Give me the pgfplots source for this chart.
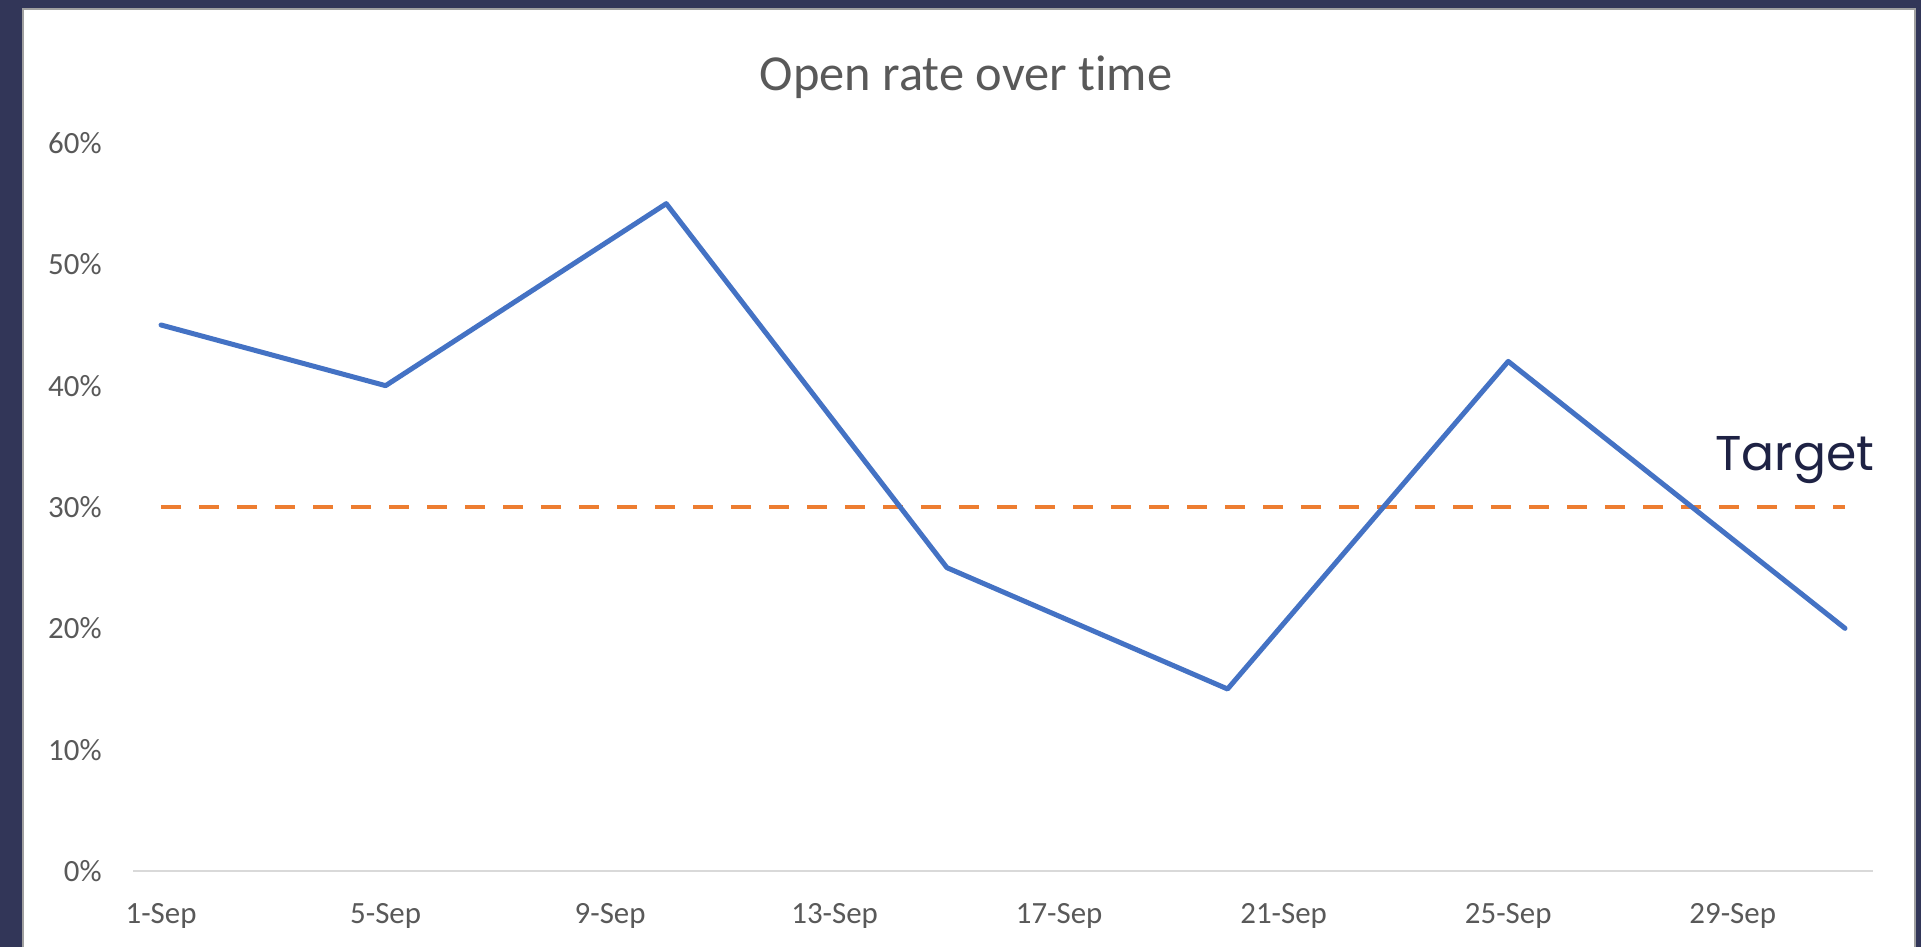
\documentclass[border=0pt]{standalone}
\usepackage{pgfplots}
\pgfplotsset{compat=1.18}
\usepackage{fontspec}
\setmainfont[Ligatures={CommonOff}]{Carlito}
\newfontfamily\poppins{Poppins}
\definecolor{navy}{RGB}{50,54,88}
\definecolor{framegray}{RGB}{160,160,160}
\definecolor{axgray}{RGB}{217,217,217}
\definecolor{txtgray}{RGB}{89,89,89}
\definecolor{xlblue}{RGB}{68,114,196}
\definecolor{xlorange}{RGB}{237,125,49}
\definecolor{tgtnavy}{RGB}{30,34,68}
\pgfplotstableread{
day rate
1 0.45
5 0.40
10 0.55
15 0.25
20 0.15
25 0.42
31 0.20
}\opendata
\pgfplotstableread{
day rate
1 0.30
31 0.30
}\targetdata
\begin{document}
\begin{tikzpicture}[x=0.5bp,y=0.5bp]
\useasboundingbox (0,0) rectangle (1921,947);
\fill[navy] (0,0) rectangle (1921,947);
\fill[white] (22,0) rectangle (1915,938);
\draw[framegray, line width=1bp] (22.5,0) -- (22.5,937.5) -- (1914.5,937.5) -- (1914.5,0);
\node[anchor=base, font=\fontsize{25.3}{30}\selectfont, text=txtgray, inner sep=0pt] at (966,856.5) {Open rate over time};
\begin{axis}[
  at={(66.5bp,38bp)}, anchor=south west,
  scale only axis, width=870bp, height=364bp,
  xmin=0.5, xmax=31.5, ymin=0, ymax=0.6,
  axis x line*=bottom, axis y line*=left,
  x axis line style={draw=axgray, line width=1.3bp, -},
  y axis line style={draw=none},
  major tick length=0pt, tick style={draw=none},
  xtick={1,5,9,13,17,21,25,29},
  xticklabels={1-Sep,5-Sep,9-Sep,13-Sep,17-Sep,21-Sep,25-Sep,29-Sep},
  ytick={0,0.1,0.2,0.3,0.4,0.5,0.6},
  yticklabels={0\%,10\%,20\%,30\%,40\%,50\%,60\%},
  ticklabel style={font=\fontsize{15.5}{18}\selectfont, text=txtgray, inner sep=0pt},
  yticklabel style={anchor=east, xshift=-15.5bp},
  xticklabel style={anchor=north, yshift=-16bp},
  clip=false,
]
\addplot[xlorange, line width=2.25bp, dash pattern=on 10bp off 9bp] table[x=day,y=rate]{\targetdata};
\addplot[xlblue, line width=2.5bp, line join=round, line cap=round] table[x=day,y=rate]{\opendata};
\end{axis}
\node[anchor=base west, font=\poppins\fontsize{24.5}{30}\selectfont, text=tgtnavy, inner sep=0pt] at (1715,477) {Target};
\end{tikzpicture}
\end{document}
